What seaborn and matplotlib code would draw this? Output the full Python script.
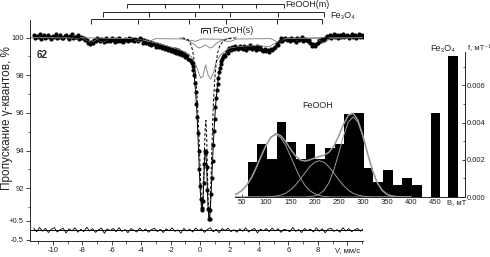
import numpy as np
import matplotlib
matplotlib.use("Agg")
import matplotlib.pyplot as plt
import seaborn as sns

# ---- Moessbauer spectrum, transmission % ----
# left wing, v = -11.3 ... -0.7 step 0.1
t_left = [
    100.15, 99.98, 100.10, 100.02, 100.18, 99.95, 100.08, 100.12, 99.99, 100.05,
    100.16, 100.01, 99.94, 100.11, 100.06, 100.19, 99.97, 100.04, 100.13, 100.00,
    99.96, 100.10, 100.14, 100.03, 99.93, 100.09, 100.17, 99.99, 100.06, 100.02,
    100.12, 99.95, 100.04, 99.98,
    99.98, 99.86, 99.90, 99.72, 99.64, 99.78, 99.70, 99.88, 99.84, 99.96,
    99.92, 99.80, 99.95, 99.86, 99.78, 99.98, 99.84, 99.90, 99.81, 99.96,
    99.87, 99.79, 99.93, 99.85, 99.99, 99.82, 99.90, 99.76, 99.94, 99.88,
    99.83, 99.97, 99.86, 99.92, 99.80, 99.95, 99.89, 99.84, 99.98,
    99.93, 99.74, 99.86, 99.70, 99.83, 99.64, 99.78, 99.60, 99.72, 99.69,
    99.52, 99.66, 99.49, 99.61, 99.44, 99.57, 99.41, 99.53, 99.36, 99.47,
    99.31, 99.42, 99.26, 99.38, 99.21, 99.32, 99.15, 99.24, 99.08, 99.16,
    98.98, 99.07, 98.86, 98.80,
]
# central doublet, v = -0.6 ... 1.55 step 0.05
t_center = [
    98.75, 98.65, 98.50, 98.30, 98.00, 97.60, 97.10, 96.50, 95.80, 94.95, 94.00, 93.00,
    92.10, 91.40, 90.95, 90.85, 91.30, 92.30, 93.30, 93.95, 93.90, 93.10, 91.90, 90.90,
    90.35, 90.35, 90.85, 91.70, 92.55, 93.45, 94.30, 95.05, 95.70, 96.30, 96.80, 97.20,
    97.55, 97.85, 98.20, 98.40, 98.60, 98.75, 98.88, 98.98,
]
# right wing, v = 1.6 ... 11.2 step 0.1
t_right = [
    99.08, 99.05, 99.28, 99.20, 99.44, 99.32, 99.50,
    99.40, 99.56, 99.45, 99.38, 99.58, 99.47, 99.41, 99.55, 99.36, 99.52,
    99.44, 99.60, 99.39, 99.50, 99.46, 99.35, 99.54, 99.42, 99.49, 99.37,
    99.30, 99.42, 99.28, 99.36, 99.25, 99.40, 99.33, 99.44,
    99.48, 99.66, 99.62,
    99.85, 99.96, 99.80, 99.92, 100.00, 99.86, 99.94, 99.82, 99.98, 99.88,
    99.93, 99.79, 99.97, 99.87, 99.91, 100.02, 99.84, 99.95, 99.89, 99.81, 99.90,
    99.70, 99.58, 99.66, 99.55, 99.68, 99.74,
    99.88, 99.80, 99.95, 99.86, 100.00,
    100.10, 100.02, 100.15, 99.99, 100.08, 100.18, 100.04, 100.12, 99.98, 100.14,
    100.06, 100.20, 100.03, 100.11, 100.16, 100.00, 100.09, 100.17, 100.05, 100.13,
    99.97, 100.10, 100.19, 100.06, 100.12, 100.02, 100.08,
]
v_left = -11.3 + 0.1 * np.arange(len(t_left))
v_center = -0.6 + 0.05 * np.arange(len(t_center))
v_right = 1.6 + 0.1 * np.arange(len(t_right))

# total fit (wings; the centre follows the doublet points)
fit_left_v = [-11.3, -9.0, -8.2, -7.8, -7.5, -7.3, -7.0, -6.6, -6.2, -5.0,
              -4.5, -4.0, -3.5, -3.0, -2.5, -2.0, -1.5, -1.0, -0.8, -0.65]
fit_left_t = [100.07, 100.05, 100.0, 99.85, 99.72, 99.72, 99.85, 99.82, 99.9, 99.9,
              99.9, 99.85, 99.72, 99.6, 99.5, 99.38, 99.25, 99.05, 98.92, 98.8]
fit_right_v = [1.6, 1.8, 2.0, 2.5, 3.0, 3.5, 4.0, 4.4, 4.8, 5.1,
               5.4, 6.0, 7.0, 7.4, 7.7, 8.0, 8.3, 8.7, 9.5, 11.2]
fit_right_t = [99.05, 99.22, 99.36, 99.46, 99.48, 99.48, 99.45, 99.36, 99.35, 99.5,
               99.85, 99.9, 99.9, 99.78, 99.62, 99.68, 99.88, 100.05, 100.08, 100.08]

# fit components
dbl_v = [-1.2, -0.8, -0.6, -0.5, -0.4, -0.3, -0.2, -0.1, 0.0, 0.05,
         0.1, 0.15, 0.2, 0.25, 0.3, 0.35, 0.4, 0.45, 0.5, 0.55,
         0.6, 0.65, 0.7, 0.75, 0.8, 0.9, 1.0, 1.1, 1.2, 1.35,
         1.6, 2.0, 2.5]
dbl_t = [100.0, 99.9, 99.6, 99.3, 98.8, 98.0, 96.9, 95.3, 93.3, 92.2,
         91.3, 90.95, 91.3, 92.5, 94.0, 95.2, 95.6, 94.8, 93.0, 91.4,
         90.5, 90.45, 91.2, 92.6, 94.1, 96.4, 97.8, 98.7, 99.2, 99.6,
         99.85, 99.95, 100.0]
mag_v = [-11.5, -8, -5, -4, -3, -2, -1.2, -0.6, -0.3, -0.1, 0.05, 0.2, 0.38,
         0.55, 0.72, 0.9, 1.1, 1.4, 2.0, 3.0, 4.0, 4.7, 5.3, 6.0, 8.0, 11.1]
mag_t = [100.0, 100.0, 99.95, 99.88, 99.72, 99.5, 99.3, 99.0, 98.6, 98.15, 97.85, 97.95, 98.55,
         98.0, 97.8, 98.1, 98.7, 99.1, 99.45, 99.55, 99.58, 99.52, 99.8, 99.95, 100.0, 100.0]
sp_v = [-1.4, -0.8, -0.4, -0.15, 0.0, 0.15, 0.35, 0.55, 0.7, 0.85, 1.1, 1.5, 2.1]
sp_t = [100.0, 99.85, 99.65, 99.48, 99.45, 99.52, 99.62, 99.52, 99.45, 99.5, 99.7, 99.88, 100.0]
mt_v = [-11.5, -8.0, -7.44, -7.0, -6.58, -6.1, -4.7, -4.2, -3.85, -3.47,
        -3.0, -1.2, -0.73, -0.55, -0.34, 0.1, 1.4, 1.77, 1.9, 2.04,
        2.5, 4.8, 5.22, 5.28, 5.33, 5.8, 7.9, 8.39, 8.9, 11.1]
mt_t = [100.0, 99.98, 99.72, 99.9, 99.75, 99.97, 99.95, 99.8, 99.88, 99.8,
        99.95, 99.93, 99.82, 99.86, 99.8, 99.93, 99.92, 99.8, 99.82, 99.8,
        99.93, 99.95, 99.78, 99.77, 99.78, 99.96, 99.97, 99.72, 99.97, 100.0]

# residuals, v = -11.3 ... 11.1 step 0.2
resid = [
    0.12, -0.08, 0.15, -0.05, 0.10, -0.12, 0.06, 0.14, -0.09, 0.03,
    0.11, -0.14, 0.08, -0.03, 0.13, -0.10, 0.05, -0.07, 0.16, -0.04,
    0.09, -0.11, 0.02, 0.12, -0.16, 0.07, -0.02, 0.10, -0.08, 0.14,
    -0.06, 0.04, -0.13, 0.09, 0.01, -0.09, 0.12, -0.05, 0.07, -0.10,
    0.03, 0.11, -0.07, 0.05, -0.12, 0.08, -0.03, 0.13, -0.06, 0.02,
    -0.15, 0.10, -0.04, 0.06, -0.09, 0.12, -0.02, 0.08, -0.11, 0.04,
    0.14, -0.08, 0.05, -0.13, 0.09, -0.01, 0.11, -0.07, 0.03, -0.10,
    0.07, -0.05, 0.13, -0.09, 0.02, 0.10, -0.14, 0.06, -0.03, 0.09,
    -0.07, 0.12, -0.04, 0.08, -0.11, 0.05, 0.01, -0.08, 0.15, -0.06,
    0.04, -0.12, 0.10, -0.02, 0.07, -0.09, 0.13, -0.05, 0.08, -0.13,
    0.06, 0.11, -0.06, 0.03, -0.10, 0.14, -0.04, 0.09, -0.07, 0.02,
    0.10, -0.05, 0.08,
]
v_resid = -11.3 + 0.2 * np.arange(len(resid))
resid_zero = 89.76

# line positions of the subspectra, mm/s
feooh_m_lines = [-4.99, -2.38, -0.05, 1.48, 3.81, 5.67]
fe3o4_a_lines = [-6.58, -3.47, -0.34, 2.04, 5.33, 8.39]
fe3o4_b_lines = [-7.44, -4.20, -0.73, 1.77, 5.22, 8.30]
feooh_s_outer = [0.05, 0.68]
feooh_s_inner = [0.20, 0.50]

# ---- hyperfine field distribution ----
feooh_B = [72 + 20 * i for i in range(18)]
feooh_f = [1.86, 2.86, 2.02, 4.03, 2.97, 2.04, 2.84, 2.02, 2.62,
           2.86, 4.45, 4.53, 1.57, 0.82, 1.43, 0.64, 1.02, 0.65]
fe3o4_B = [450, 487]
fe3o4_f = [4.50, 7.60]
B_grid = [30 + 10 * i for i in range(38)]
g1 = [0.08, 0.18, 0.35, 0.64, 1.06, 1.61, 2.22, 2.79, 3.20, 3.35, 3.20, 2.79, 2.22,
      1.61, 1.06, 0.64, 0.35, 0.18, 0.08, 0.03, 0.01] + [0] * 17
g2 = [0] * 8 + [0.02, 0.05, 0.10, 0.20, 0.37, 0.62, 0.94, 1.29, 1.62, 1.86, 1.95,
                1.86, 1.62, 1.29, 0.94, 0.62, 0.37, 0.20, 0.10, 0.05, 0.02] + [0] * 9
g3 = [0] * 16 + [0.02, 0.05, 0.15, 0.36, 0.77, 1.44, 2.32, 3.27, 4.02, 4.30,
                 4.02, 3.27, 2.32, 1.44, 0.77, 0.36, 0.15, 0.05, 0.02] + [0] * 3

sns.set_theme(style="ticks")
plt.rcParams['font.family'] = ['Liberation Sans', 'DejaVu Sans']
plt.rcParams['axes.linewidth'] = 0.7

fig = plt.figure(figsize=(4.9, 2.57), dpi=100)
ax = fig.add_axes([30 / 490, 16 / 257, 333 / 490, 221 / 257])

grey = '#7a7a7a'
sns.lineplot(x=mt_v, y=mt_t, ax=ax, color=grey, lw=0.6, estimator=None, sort=False)
sns.lineplot(x=mag_v, y=mag_t, ax=ax, color=grey, lw=0.6, estimator=None, sort=False)
sns.lineplot(x=sp_v, y=sp_t, ax=ax, color=grey, lw=0.6, estimator=None, sort=False)
sns.lineplot(x=dbl_v, y=dbl_t, ax=ax, color='black', lw=0.7, ls=(0, (3, 2)),
             estimator=None, sort=False)

v_all = np.concatenate([v_left, v_center, v_right])
t_all = np.concatenate([t_left, t_center, t_right])
sns.scatterplot(x=v_all, y=t_all, ax=ax, s=9, color='black', linewidth=0, marker='o')
fit_v = np.concatenate([fit_left_v, v_center, fit_right_v])
fit_t = np.concatenate([fit_left_t, t_center, fit_right_t])
sns.lineplot(x=fit_v, y=fit_t, ax=ax, color='black', lw=0.7, estimator=None, sort=False)

ax.axhline(resid_zero, color='black', lw=0.7)
sns.lineplot(x=v_resid, y=resid_zero + np.array(resid), ax=ax, color='black', lw=0.6,
             estimator=None, sort=False)

# stick diagrams above the spectrum
def sticks(pos, y, drop):
    ax.hlines(y, pos[0], pos[-1], colors='black', lw=0.6, clip_on=False)
    ax.vlines(pos, y - drop, y, colors='black', lw=0.6, clip_on=False)

sticks(feooh_m_lines, 101.79, 0.2)
sticks(fe3o4_a_lines, 101.34, 0.24)
sticks(fe3o4_b_lines, 100.99, 0.24)
sticks(feooh_s_outer, 100.52, 0.27)
sticks(feooh_s_inner, 100.41, 0.16)
ax.text(5.77, 101.79, 'FeOOH(m)', fontsize=6.5, ha='left', va='center')
ax.text(8.83, 101.17, 'Fe₃O₄', fontsize=6.5, ha='left', va='center')
ax.text(0.82, 100.38, 'FeOOH(s)', fontsize=6.5, ha='left', va='center')
ax.text(-10.73, 99.08, '62', fontsize=7, fontweight='bold', ha='center', va='center')

ax.set_xlim(-11.55, 11.07)
ax.set_ylim(89.19, 100.94)
ax.set_xticks(list(range(-10, 11, 2)))
ax.set_xticklabels([str(x) for x in range(-10, 10, 2)] + ['V, мм/с'])
ax.set_xticks(list(range(-11, 12, 2)), minor=True)
ax.set_yticks([resid_zero - 0.5, resid_zero + 0.5, 92, 94, 96, 98, 100])
ax.set_yticklabels(['-0.5', '+0.5', '92', '94', '96', '98', '100'])
ax.set_yticks([91, 93, 95, 97, 99], minor=True)
ax.tick_params(which='major', length=3, width=0.6, labelsize=5.5, pad=1.5, colors='#222')
ax.tick_params(which='minor', length=1.8, width=0.5)
ax.set_xlabel('')
ax.set_ylabel('')
sns.despine(ax=ax)
fig.text(7 / 490, 1 - 118 / 257, 'Пропускание γ-квантов, %', rotation=90,
         ha='center', va='center', fontsize=8.5)

# inset: field distribution
axin = fig.add_axes([235 / 490, 1 - 197 / 257, 230 / 490, 145.2 / 257])
axin.patch.set_alpha(0)
axin.bar(feooh_B, np.array(feooh_f) * 1e-3, width=20, color='black', linewidth=0)
axin.bar(fe3o4_B, np.array(fe3o4_f) * 1e-3, width=19, color='black', linewidth=0)
g_sum = np.array(g1) + np.array(g2) + np.array(g3)
for g in (g1, g2, g3):
    sns.lineplot(x=B_grid, y=np.array(g) * 1e-3, ax=axin, color='#9a9a9a', lw=0.7,
                 estimator=None, sort=False)
sns.lineplot(x=B_grid, y=g_sum * 1e-3, ax=axin, color='#9a9a9a', lw=1.1,
             estimator=None, sort=False)
axin.set_xlim(35.5, 511.7)
axin.set_ylim(0, 0.0078)
axin.set_xticks([50, 100, 150, 200, 250, 300, 350, 400, 450, 495])
axin.set_xticklabels(['50', '100', '150', '200', '250', '300', '350', '400', '450', 'B, мТ'])
axin.yaxis.tick_right()
axin.set_yticks([0, 0.002, 0.004, 0.006])
axin.set_yticklabels(['0.000', '0.002', '0.004', '0.006'])
axin.set_yticks([0.001, 0.003, 0.005, 0.007], minor=True)
axin.tick_params(which='major', length=2.5, width=0.6, labelsize=5.5, pad=1.5,
                 direction='in', colors='#222')
axin.tick_params(which='minor', length=1.5, width=0.5, direction='in')
axin.spines['left'].set_visible(False)
axin.spines['top'].set_visible(False)
axin.spines['right'].set_visible(True)
axin.set_xlabel('')
axin.set_ylabel('')
axin.text(207, 0.0049, 'FeOOH', fontsize=6.5, ha='center', va='center')
axin.text(466, 0.0080, 'Fe₃O₄', fontsize=6.5, ha='center', va='center')
axin.text(518, 0.0080, 'f, мТ⁻¹', fontsize=5.5, ha='left', va='center')

fig.savefig('out.png', dpi=100)
